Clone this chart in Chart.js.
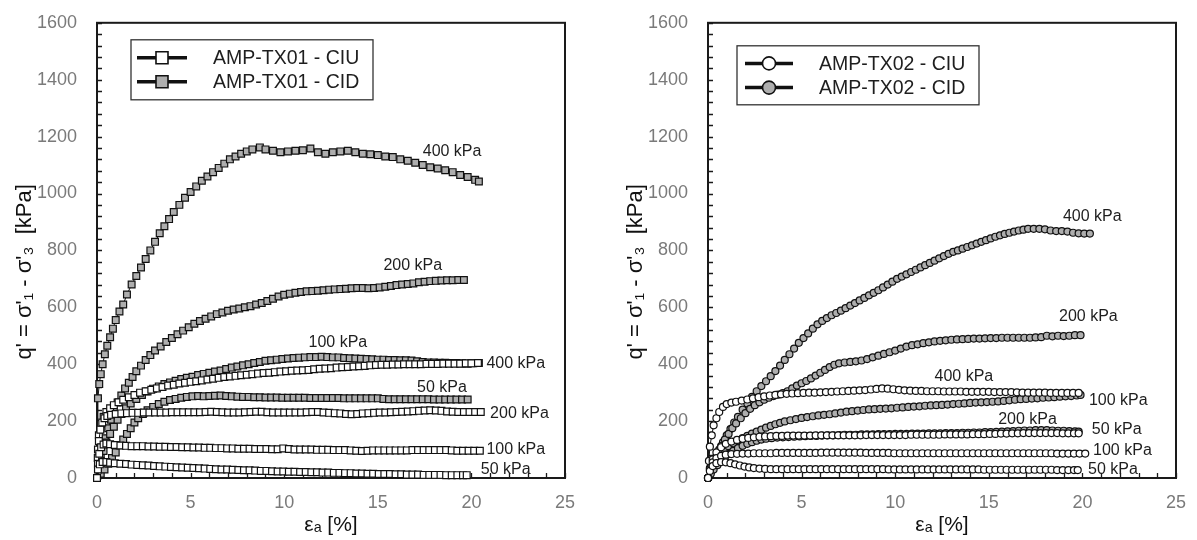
<!DOCTYPE html>
<html>
<head>
<meta charset="utf-8">
<script src="https://cdn.jsdelivr.net/npm/chart.js@4.4.1/dist/chart.umd.min.js"></script>
<style>
  html, body { margin: 0; padding: 0; background: #ffffff; }
  body { width: 1197px; height: 540px; position: relative; overflow: hidden; }
  .wrap { position: absolute; top: 0; height: 540px; }
  #w1 { left: 0; width: 598px; }
  #w2 { left: 611px; width: 586px; }
</style>
</head>
<body>
<div class="wrap" id="w1"><canvas id="c1" width="598" height="540"></canvas></div>
<div class="wrap" id="w2"><canvas id="c2" width="586" height="540"></canvas></div>
<script>
// ---------- axis ticks ----------
const xTickValues = [0, 5, 10, 15, 20, 25];
const yTickValues = [0, 200, 400, 600, 800, 1000, 1200, 1400, 1600];
const xTitle = 'ε\u2090 [%]';
const yTitle = "q' = σ'\u2081 - σ'\u2083  [kPa]       ";

// ---------- legends ----------
const legendL = ['AMP-TX01 - CIU', 'AMP-TX01 - CID'];
const legendR = ['AMP-TX02 - CIU', 'AMP-TX02 - CID'];

// ---------- AMP-TX01 (left) : [axial strain %, q' kPa] ----------
const tx01_ciu_50 = [[0,0],[0.05,30],[0.15,48],[0.3,56],[0.5,56],[0.7,54],[0.95,52],[1.25,50],[1.55,49],[1.85,47],[2.15,46],[2.45,45],[2.75,44],[3.05,42],[3.35,41],[3.65,40],[3.95,39],[4.25,38],[4.55,37],[4.85,36],[5.15,35],[5.45,34],[5.75,33],[6.05,32],[6.35,31],[6.65,30],[6.95,30],[7.25,29],[7.55,28],[7.85,27],[8.15,27],[8.45,26],[8.75,25],[9.05,25],[9.35,24],[9.65,23],[9.95,23],[10.25,22],[10.55,22],[10.85,21],[11.15,21],[11.45,20],[11.75,20],[12.05,19],[12.35,19],[12.65,18],[12.95,18],[13.25,17],[13.55,17],[13.85,16],[14.15,16],[14.45,15],[14.75,15],[15.05,14],[15.35,14],[15.65,14],[15.95,13],[16.25,13],[16.55,12],[16.85,12],[17.15,12],[17.45,11],[17.75,11],[18.05,11],[18.35,11],[18.65,10],[18.95,10],[19.25,10],[19.55,10],[19.75,10]];
const tx01_ciu_100 = [[0,0],[0.05,50],[0.12,85],[0.22,108],[0.35,118],[0.5,121],[0.7,119],[0.95,116],[1.25,114],[1.55,113],[1.85,112],[2.15,112],[2.45,112],[2.75,111],[3.05,111],[3.35,110],[3.65,110],[3.95,109],[4.25,109],[4.55,108],[4.85,108],[5.15,107],[5.45,107],[5.75,106],[6.05,106],[6.35,105],[6.65,105],[6.95,104],[7.25,104],[7.55,103],[7.85,103],[8.15,103],[8.45,102],[8.75,102],[9.05,102],[9.35,101],[9.65,101],[9.95,104],[10.25,102],[10.55,100],[10.85,100],[11.15,100],[11.45,100],[11.75,99],[12.05,99],[12.35,99],[12.65,98],[12.95,98],[13.25,98],[13.55,97],[13.85,96],[14.15,95],[14.45,96],[14.75,97],[15.05,97],[15.35,97],[15.65,97],[15.95,97],[16.25,97],[16.55,97],[16.85,98],[17.15,98],[17.45,98],[17.75,98],[18.05,98],[18.35,98],[18.65,98],[18.95,97],[19.25,96],[19.55,96],[19.85,96],[20.15,96],[20.45,96]];
const tx01_ciu_200 = [[0,0],[0.04,70],[0.1,130],[0.18,170],[0.28,195],[0.4,210],[0.55,218],[0.75,222],[1.0,225],[1.3,227],[1.6,228],[1.9,229],[2.2,229],[2.5,230],[2.8,230],[3.1,230],[3.4,230],[3.7,230],[4.0,231],[4.3,231],[4.6,231],[4.9,231],[5.2,231],[5.5,231],[5.8,232],[6.1,233],[6.4,232],[6.7,231],[7.0,230],[7.3,230],[7.6,230],[7.9,231],[8.2,232],[8.5,233],[8.8,233],[9.1,231],[9.4,230],[9.7,230],[10.0,230],[10.3,230],[10.6,230],[10.9,230],[11.2,231],[11.5,232],[11.8,232],[12.1,230],[12.4,229],[12.7,228],[13.0,227],[13.3,225],[13.6,224],[13.9,225],[14.2,227],[14.5,228],[14.8,229],[15.1,230],[15.4,230],[15.7,231],[16.0,232],[16.3,233],[16.6,234],[16.9,235],[17.2,236],[17.5,237],[17.8,238],[18.1,237],[18.4,236],[18.7,234],[19.0,233],[19.3,232],[19.6,232],[19.9,232],[20.2,232],[20.5,232]];
const tx01_ciu_400 = [[0,0],[0.05,100],[0.1,150],[0.2,190],[0.35,215],[0.5,232],[0.7,245],[0.9,256],[1.15,266],[1.4,275],[1.7,284],[2.0,292],[2.3,300],[2.6,305],[2.9,310],[3.2,315],[3.5,320],[3.8,325],[4.1,328],[4.4,332],[4.7,335],[5.0,338],[5.3,340],[5.6,343],[5.9,346],[6.2,349],[6.5,352],[6.8,355],[7.1,357],[7.4,359],[7.7,361],[8.0,363],[8.3,365],[8.6,367],[8.9,369],[9.2,370],[9.5,372],[9.8,374],[10.1,375],[10.4,377],[10.7,378],[11.0,379],[11.3,380],[11.6,382],[11.9,384],[12.2,385],[12.5,386],[12.8,388],[13.1,389],[13.4,390],[13.7,392],[14.0,393],[14.3,394],[14.6,396],[14.9,397],[15.2,398],[15.5,398],[15.8,399],[16.1,399],[16.4,400],[16.7,400],[17.0,400],[17.3,400],[17.6,401],[17.9,401],[18.2,401],[18.5,402],[18.8,402],[19.1,402],[19.4,402],[19.7,403],[20.0,403],[20.35,404]];
const tx01_cid_50 = [[0,0],[0.2,15],[0.4,30],[0.6,50],[0.8,70],[1.0,90],[1.2,115],[1.4,135],[1.6,155],[1.8,175],[2.0,195],[2.2,210],[2.45,225],[2.7,238],[3.0,250],[3.3,260],[3.6,268],[3.9,274],[4.2,278],[4.5,282],[4.8,285],[5.1,287],[5.4,288],[5.7,287],[6.0,288],[6.3,289],[6.6,290],[6.9,288],[7.2,287],[7.5,286],[7.8,285],[8.1,285],[8.4,284],[8.7,284],[9.0,283],[9.3,283],[9.6,283],[9.9,282],[10.2,282],[10.5,282],[10.8,282],[11.1,282],[11.4,281],[11.7,281],[12.0,281],[12.3,281],[12.6,281],[12.9,281],[13.2,280],[13.5,280],[13.8,280],[14.1,280],[14.4,280],[14.7,280],[15.0,280],[15.3,278],[15.6,277],[15.9,277],[16.2,277],[16.5,277],[16.8,277],[17.1,277],[17.4,277],[17.7,277],[18.0,276],[18.3,276],[18.6,276],[18.9,276],[19.2,276],[19.5,276],[19.8,276]];
const tx01_cid_100 = [[0,0],[0.1,30],[0.2,60],[0.35,95],[0.5,125],[0.7,155],[0.9,180],[1.1,205],[1.3,225],[1.55,245],[1.8,262],[2.1,278],[2.4,292],[2.7,304],[3.0,314],[3.3,322],[3.6,330],[3.9,336],[4.2,342],[4.5,348],[4.8,352],[5.1,356],[5.4,362],[5.7,366],[6.0,370],[6.3,374],[6.6,378],[6.9,383],[7.2,388],[7.5,392],[7.8,396],[8.1,400],[8.4,404],[8.7,408],[9.0,412],[9.3,414],[9.6,416],[9.9,418],[10.2,420],[10.5,422],[10.8,423],[11.1,424],[11.4,425],[11.7,425],[12.0,426],[12.3,425],[12.6,424],[12.9,424],[13.2,422],[13.5,421],[13.8,420],[14.1,419],[14.4,418],[14.7,417],[15.0,416],[15.3,416],[15.6,415],[15.9,415],[16.2,414],[16.5,414],[16.8,413],[17.1,410],[17.4,408],[17.7,406],[18.0,406],[18.3,405],[18.6,405],[18.9,404],[19.2,404],[19.5,403],[19.8,402],[20.1,403],[20.4,404]];
const tx01_cid_200 = [[0,0],[0.1,40],[0.2,75],[0.3,105],[0.45,140],[0.6,175],[0.75,205],[0.9,235],[1.1,265],[1.3,290],[1.5,315],[1.7,335],[1.9,355],[2.1,375],[2.35,395],[2.6,415],[2.85,432],[3.1,448],[3.4,462],[3.7,478],[4.0,492],[4.3,505],[4.6,518],[4.9,530],[5.2,542],[5.5,552],[5.8,560],[6.1,568],[6.4,576],[6.7,582],[7.0,588],[7.3,592],[7.6,596],[7.9,600],[8.2,604],[8.5,610],[8.8,615],[9.1,622],[9.4,630],[9.7,638],[10.0,644],[10.3,648],[10.6,651],[10.9,654],[11.2,656],[11.5,657],[11.8,658],[12.1,660],[12.4,662],[12.7,663],[13.0,664],[13.3,665],[13.6,667],[13.9,668],[14.2,668],[14.5,667],[14.8,668],[15.1,670],[15.4,672],[15.7,675],[16.0,678],[16.3,680],[16.6,682],[16.9,684],[17.2,688],[17.5,690],[17.8,692],[18.1,693],[18.4,694],[18.7,695],[19.0,695],[19.3,696],[19.6,696]];
const tx01_cid_400 = [[0,0],[0.05,280],[0.12,330],[0.2,365],[0.3,400],[0.42,435],[0.55,465],[0.7,495],[0.85,525],[1.0,555],[1.2,585],[1.4,610],[1.6,645],[1.85,680],[2.1,710],[2.35,740],[2.6,770],[2.85,800],[3.1,830],[3.35,860],[3.6,885],[3.85,910],[4.1,935],[4.4,960],[4.7,985],[5.0,1005],[5.3,1025],[5.6,1045],[5.9,1060],[6.2,1075],[6.5,1090],[6.8,1105],[7.1,1120],[7.4,1130],[7.7,1140],[8.0,1148],[8.3,1155],[8.7,1162],[9.0,1155],[9.4,1150],[9.8,1145],[10.2,1148],[10.6,1150],[11.0,1152],[11.4,1158],[11.8,1145],[12.2,1140],[12.6,1145],[13.0,1148],[13.4,1150],[13.8,1145],[14.2,1140],[14.6,1138],[15.0,1135],[15.4,1130],[15.8,1128],[16.2,1120],[16.6,1115],[17.0,1108],[17.4,1100],[17.8,1092],[18.2,1088],[18.6,1082],[19.0,1075],[19.4,1065],[19.8,1058],[20.2,1048],[20.4,1042]];

// ---------- AMP-TX02 (right) : [axial strain %, q' kPa] ----------
const tx02_ciu_50 = [[0,0],[0.1,25],[0.25,42],[0.45,52],[0.7,56],[0.95,55],[1.2,52],[1.45,48],[1.7,44],[1.95,40],[2.2,37],[2.45,35],[2.75,33],[3.05,32],[3.35,31],[3.65,31],[3.95,31],[4.25,31],[4.55,31],[4.85,31],[5.15,31],[5.45,31],[5.75,31],[6.05,31],[6.35,31],[6.65,31],[6.95,31],[7.25,31],[7.55,31],[7.85,31],[8.15,31],[8.45,31],[8.75,31],[9.05,31],[9.35,31],[9.65,30],[9.95,30],[10.25,30],[10.55,30],[10.85,30],[11.15,30],[11.45,30],[11.75,30],[12.05,30],[12.35,30],[12.65,30],[12.95,30],[13.25,30],[13.55,30],[13.85,30],[14.15,30],[14.45,30],[14.75,29],[15.05,29],[15.35,29],[15.65,29],[15.95,29],[16.25,29],[16.55,29],[16.85,29],[17.15,29],[17.45,29],[17.75,29],[18.05,29],[18.35,29],[18.65,28],[18.95,28],[19.25,28],[19.55,28],[19.75,28]];
const tx02_ciu_100 = [[0,0],[0.1,30],[0.25,55],[0.45,70],[0.7,78],[0.95,82],[1.25,84],[1.55,85],[1.85,86],[2.15,86],[2.45,87],[2.75,87],[3.05,87],[3.35,87],[3.65,88],[3.95,88],[4.25,88],[4.55,88],[4.85,88],[5.15,88],[5.45,88],[5.75,88],[6.05,89],[6.35,89],[6.65,89],[6.95,89],[7.25,89],[7.55,89],[7.85,89],[8.15,89],[8.45,88],[8.75,88],[9.05,88],[9.35,88],[9.65,88],[9.95,87],[10.25,87],[10.55,87],[10.85,87],[11.15,87],[11.45,87],[11.75,87],[12.05,87],[12.35,87],[12.65,87],[12.95,87],[13.25,87],[13.55,87],[13.85,87],[14.15,87],[14.45,87],[14.75,87],[15.05,87],[15.35,87],[15.65,87],[15.95,87],[16.25,87],[16.55,87],[16.85,87],[17.15,87],[17.45,87],[17.75,87],[18.05,87],[18.35,87],[18.65,86],[18.95,86],[19.25,86],[19.55,86],[19.85,86],[20.15,86]];
const tx02_ciu_200 = [[0,0],[0.1,35],[0.25,65],[0.45,90],[0.7,108],[0.95,120],[1.25,128],[1.55,134],[1.85,138],[2.15,141],[2.45,143],[2.75,145],[3.05,146],[3.35,147],[3.65,148],[3.95,148],[4.25,149],[4.55,149],[4.85,149],[5.15,149],[5.45,149],[5.75,150],[6.05,150],[6.35,150],[6.65,150],[6.95,150],[7.25,150],[7.55,150],[7.85,150],[8.15,150],[8.45,151],[8.75,151],[9.05,151],[9.35,151],[9.65,151],[9.95,151],[10.25,151],[10.55,151],[10.85,152],[11.15,152],[11.45,152],[11.75,152],[12.05,152],[12.35,152],[12.65,153],[12.95,153],[13.25,153],[13.55,153],[13.85,153],[14.15,154],[14.45,154],[14.75,154],[15.05,155],[15.35,155],[15.65,156],[15.95,156],[16.25,157],[16.55,157],[16.85,158],[17.15,158],[17.45,158],[17.75,158],[18.05,158],[18.35,158],[18.65,158],[18.95,157],[19.25,157],[19.55,157],[19.8,157]];
const tx02_ciu_400 = [[0,0],[0.05,60],[0.1,110],[0.2,150],[0.3,185],[0.45,210],[0.6,232],[0.8,250],[1.0,260],[1.25,265],[1.5,268],[1.8,272],[2.1,276],[2.4,280],[2.7,284],[3.0,287],[3.3,290],[3.6,292],[3.9,294],[4.2,296],[4.5,297],[4.8,298],[5.1,299],[5.4,300],[5.7,300],[6.0,301],[6.3,302],[6.6,303],[6.9,304],[7.2,305],[7.5,306],[7.8,307],[8.1,308],[8.4,309],[8.7,311],[9.0,313],[9.3,315],[9.6,314],[9.9,312],[10.2,310],[10.5,308],[10.8,307],[11.1,306],[11.4,306],[11.7,305],[12.0,305],[12.3,305],[12.6,304],[12.9,304],[13.2,304],[13.5,304],[13.8,303],[14.1,303],[14.4,303],[14.7,303],[15.0,303],[15.3,302],[15.6,302],[15.9,302],[16.2,302],[16.5,301],[16.8,300],[17.1,300],[17.4,300],[17.7,300],[18.0,300],[18.3,299],[18.6,299],[18.9,299],[19.2,299],[19.5,299],[19.8,299]];
const tx02_cid_50 = [[0,0],[0.15,15],[0.3,30],[0.5,45],[0.7,60],[0.9,72],[1.1,84],[1.35,95],[1.6,105],[1.85,113],[2.1,120],[2.35,126],[2.6,131],[2.85,135],[3.1,138],[3.4,140],[3.7,142],[4.0,143],[4.3,144],[4.6,145],[4.9,146],[5.2,147],[5.5,148],[5.8,148],[6.1,149],[6.4,150],[6.7,150],[7.0,151],[7.3,152],[7.6,152],[7.9,152],[8.2,153],[8.5,153],[8.8,153],[9.1,154],[9.4,154],[9.7,154],[10.0,155],[10.3,155],[10.6,155],[10.9,156],[11.2,156],[11.5,156],[11.8,157],[12.1,157],[12.4,157],[12.7,158],[13.0,158],[13.3,158],[13.6,159],[13.9,159],[14.2,160],[14.5,160],[14.8,161],[15.1,161],[15.4,162],[15.7,163],[16.0,164],[16.3,165],[16.6,166],[16.9,167],[17.2,167],[17.5,168],[17.8,168],[18.1,168],[18.4,167],[18.7,166],[19.0,166],[19.3,165],[19.6,164],[19.8,163]];
const tx02_cid_100 = [[0,0],[0.15,25],[0.3,45],[0.5,65],[0.7,85],[0.9,100],[1.1,112],[1.35,122],[1.6,132],[1.85,140],[2.1,148],[2.35,156],[2.6,163],[2.85,170],[3.1,177],[3.35,183],[3.6,189],[3.85,194],[4.1,199],[4.4,203],[4.7,207],[5.0,211],[5.3,214],[5.6,217],[5.9,220],[6.2,222],[6.5,224],[6.8,227],[7.1,230],[7.4,233],[7.7,235],[8.0,237],[8.3,239],[8.6,241],[8.9,242],[9.2,243],[9.5,244],[9.8,245],[10.1,247],[10.4,248],[10.7,250],[11.0,251],[11.3,252],[11.6,254],[11.9,255],[12.2,256],[12.5,257],[12.8,258],[13.1,260],[13.4,261],[13.7,262],[14.0,264],[14.3,265],[14.6,266],[14.9,267],[15.2,268],[15.5,269],[15.8,271],[16.1,273],[16.4,275],[16.7,277],[17.0,278],[17.3,279],[17.6,280],[17.9,282],[18.2,283],[18.5,284],[18.8,286],[19.1,287],[19.4,288],[19.7,290],[19.9,292]];
const tx02_cid_200 = [[0,0],[0.15,30],[0.3,55],[0.5,85],[0.7,112],[0.9,135],[1.1,155],[1.3,175],[1.5,192],[1.75,210],[2.0,228],[2.25,243],[2.5,256],[2.75,266],[3.0,275],[3.25,282],[3.5,288],[3.75,293],[4.0,298],[4.25,305],[4.5,315],[4.75,325],[5.0,333],[5.25,341],[5.5,350],[5.75,360],[6.0,370],[6.25,380],[6.5,390],[6.75,398],[7.0,403],[7.3,406],[7.6,408],[7.9,410],[8.2,413],[8.5,418],[8.8,424],[9.1,430],[9.4,436],[9.7,442],[10.0,448],[10.3,455],[10.6,462],[10.9,467],[11.2,470],[11.5,474],[11.8,477],[12.1,480],[12.4,482],[12.7,484],[13.0,486],[13.3,487],[13.6,488],[13.9,489],[14.2,490],[14.5,490],[14.8,491],[15.1,492],[15.4,492],[15.7,493],[16.0,493],[16.3,493],[16.6,493],[16.9,493],[17.2,493],[17.5,494],[17.8,495],[18.1,500],[18.4,498],[18.7,500],[19.0,499],[19.3,500],[19.6,502],[19.9,502]];
const tx02_cid_400 = [[0,0],[0.15,25],[0.3,50],[0.45,75],[0.6,100],[0.8,125],[1.0,150],[1.2,172],[1.4,195],[1.6,215],[1.85,240],[2.1,262],[2.35,285],[2.6,305],[2.85,323],[3.1,340],[3.35,358],[3.6,376],[3.85,395],[4.1,415],[4.35,435],[4.6,455],[4.85,475],[5.1,492],[5.35,508],[5.6,525],[5.85,540],[6.1,552],[6.35,562],[6.6,572],[6.85,580],[7.1,588],[7.35,597],[7.6,606],[7.85,615],[8.1,624],[8.35,633],[8.6,642],[8.85,651],[9.1,660],[9.35,670],[9.6,680],[9.85,690],[10.1,700],[10.35,708],[10.6,716],[10.85,724],[11.1,732],[11.35,740],[11.6,748],[11.85,756],[12.1,764],[12.35,772],[12.6,780],[12.85,788],[13.1,795],[13.35,800],[13.6,806],[13.85,812],[14.1,818],[14.35,824],[14.6,830],[14.85,836],[15.1,842],[15.35,848],[15.6,853],[15.85,858],[16.1,862],[16.35,866],[16.6,870],[16.85,873],[17.1,876],[17.4,876],[17.7,876],[18.0,874],[18.3,870],[18.6,868],[18.9,868],[19.2,866],[19.5,862],[19.8,860],[20.1,859],[20.4,859]];

// ---------- curve labels: [text, strain at text left, q at text middle] ----------
const notesL = [['400 kPa',17.4,1149],['200 kPa',15.3,745],['100 kPa',11.3,476],['50 kPa',17.1,317],['400 kPa',20.8,403],['200 kPa',21.0,226],['100 kPa',20.8,101],['50 kPa',20.5,29]];
const notesR = [['400 kPa',18.96,919],['200 kPa',18.75,569],['400 kPa',12.1,358],['100 kPa',20.35,271],['200 kPa',15.5,205],['50 kPa',20.5,170],['100 kPa',20.57,97],['50 kPa',20.3,29]];

// ---------- drawing ----------
const FONT = "'Liberation Sans', Arial, Helvetica, sans-serif";
const GRAY = '#aeaeae';

function series(label, pts, fill, style) {
  return {
    label: label,
    data: pts.map(p => ({x: p[0], y: p[1]})),
    showLine: true,
    borderColor: '#111111',
    borderWidth: 1,
    pointStyle: style,
    pointRadius: style === 'rect' ? 4.8 : 3.5,
    pointBackgroundColor: fill,
    pointBorderColor: '#111111',
    pointBorderWidth: 1.2,
    clip: false,
    tension: 0
  };
}

const framePlugin = {
  id: 'frame',
  beforeDatasetsDraw(chart) {
    const {ctx, chartArea: a, scales: {x, y}} = chart;
    ctx.save();
    ctx.strokeStyle = '#1a1a1a';
    ctx.lineWidth = 1.3;
    ctx.beginPath();
    for (let v = 0; v <= x.max; v += 1) {
      const px = Math.round(x.getPixelForValue(v)) + 0.5;
      ctx.moveTo(px, a.bottom); ctx.lineTo(px, a.bottom - 5);
    }
    for (let v = 0; v <= y.max; v += 40) {
      const py = Math.round(y.getPixelForValue(v)) + 0.5;
      ctx.moveTo(a.left, py); ctx.lineTo(a.left + 5, py);
    }
    ctx.stroke();
    ctx.lineWidth = 2;
    ctx.strokeStyle = '#1a1a1a';
    ctx.strokeRect(a.left, a.top, a.right - a.left, a.bottom - a.top);
    ctx.restore();
  },
  afterDraw(chart, args, opts) {
    const {ctx, chartArea: a, scales: {x, y}} = chart;
    ctx.save();
    // curve labels
    ctx.fillStyle = '#1e1e1e';
    ctx.font = '16px ' + FONT;
    ctx.textAlign = 'left';
    ctx.textBaseline = 'middle';
    opts.notes.forEach(n => ctx.fillText(n[0], x.getPixelForValue(n[1]), y.getPixelForValue(n[2])));
    // legend box
    const L = opts.legend;
    const bx = a.left + L.dx, by = a.top + L.dy;
    ctx.fillStyle = '#ffffff';
    ctx.fillRect(bx, by, L.w, L.h);
    ctx.strokeStyle = '#333333';
    ctx.lineWidth = 1.3;
    ctx.strokeRect(bx, by, L.w, L.h);
    L.items.forEach((txt, i) => {
      const cy = by + L.rows[i];
      ctx.strokeStyle = '#111111';
      ctx.lineWidth = 3.5;
      ctx.beginPath();
      ctx.moveTo(bx + L.sx0, cy); ctx.lineTo(bx + L.sx1, cy);
      ctx.stroke();
      const mx = bx + (L.sx0 + L.sx1) / 2;
      ctx.fillStyle = i === 0 ? '#ffffff' : GRAY;
      ctx.lineWidth = 1.6;
      ctx.beginPath();
      if (L.shape === 'rect') ctx.rect(mx - 6, cy - 6, 12, 12);
      else ctx.arc(mx, cy, 6.5, 0, Math.PI * 2);
      ctx.fill(); ctx.stroke();
      ctx.fillStyle = '#1e1e1e';
      ctx.font = '19.5px ' + FONT;
      ctx.textBaseline = 'middle';
      ctx.fillText(txt, bx + L.tx, cy + 1);
    });
    ctx.restore();
  }
};

function makeChart(id, datasets, notes, legend) {
  return new Chart(document.getElementById(id), {
    type: 'scatter',
    data: { datasets: datasets },
    plugins: [framePlugin],
    options: {
      responsive: false,
      animation: false,
      events: [],
      layout: { padding: { left: 0, right: id === 'c1' ? 33 : 21, top: 18, bottom: 0 } },
      plugins: {
        legend: { display: false },
        tooltip: { enabled: false },
        frame: { notes: notes, legend: legend }
      },
      scales: {
        x: {
          type: 'linear', min: 0, max: 25,
          afterBuildTicks: s => { s.ticks = xTickValues.map(v => ({value: v})); },
          afterFit: s => { s.height = 62; },
          grid: { display: false },
          border: { display: false },
          ticks: { color: '#7a7a7a', font: { size: 18, family: FONT }, padding: 6, maxRotation: 0, callback: v => String(v) },
          title: { display: true, text: xTitle, color: '#111111', font: { size: 21, family: FONT }, padding: { top: 0, bottom: 2 } }
        },
        y: {
          type: 'linear', min: 0, max: 1600,
          afterBuildTicks: s => { s.ticks = yTickValues.map(v => ({value: v})); },
          afterFit: s => { s.width = 97; },
          grid: { display: false },
          border: { display: false },
          ticks: { color: '#7a7a7a', font: { size: 18, family: FONT }, padding: 12, callback: v => String(v) },
          title: { display: true, text: yTitle, color: '#111111', font: { size: 22, family: FONT }, padding: { top: 12, bottom: 0 } }
        }
      }
    }
  });
}

makeChart('c1', [
  series('AMP-TX01 - CIU 50 kPa', tx01_ciu_50, '#ffffff', 'rect'),
  series('AMP-TX01 - CIU 100 kPa', tx01_ciu_100, '#ffffff', 'rect'),
  series('AMP-TX01 - CIU 200 kPa', tx01_ciu_200, '#ffffff', 'rect'),
  series('AMP-TX01 - CIU 400 kPa', tx01_ciu_400, '#ffffff', 'rect'),
  series('AMP-TX01 - CID 50 kPa', tx01_cid_50, GRAY, 'rect'),
  series('AMP-TX01 - CID 100 kPa', tx01_cid_100, GRAY, 'rect'),
  series('AMP-TX01 - CID 200 kPa', tx01_cid_200, GRAY, 'rect'),
  series('AMP-TX01 - CID 400 kPa', tx01_cid_400, GRAY, 'rect')
], notesL, { items: legendL, shape: 'rect', dx: 34, dy: 17, w: 242, h: 60, rows: [18, 42], sx0: 6, sx1: 56, tx: 82 });

makeChart('c2', [
  series('AMP-TX02 - CIU 50 kPa', tx02_ciu_50, '#ffffff', 'circle'),
  series('AMP-TX02 - CIU 100 kPa', tx02_ciu_100, '#ffffff', 'circle'),
  series('AMP-TX02 - CIU 200 kPa', tx02_ciu_200, '#ffffff', 'circle'),
  series('AMP-TX02 - CIU 400 kPa', tx02_ciu_400, '#ffffff', 'circle'),
  series('AMP-TX02 - CID 50 kPa', tx02_cid_50, GRAY, 'circle'),
  series('AMP-TX02 - CID 100 kPa', tx02_cid_100, GRAY, 'circle'),
  series('AMP-TX02 - CID 200 kPa', tx02_cid_200, GRAY, 'circle'),
  series('AMP-TX02 - CID 400 kPa', tx02_cid_400, GRAY, 'circle')
], notesR, { items: legendR, shape: 'circle', dx: 29, dy: 23, w: 242, h: 59, rows: [17.6, 41.8], sx0: 8, sx1: 56, tx: 82 });
</script>
</body>
</html>
